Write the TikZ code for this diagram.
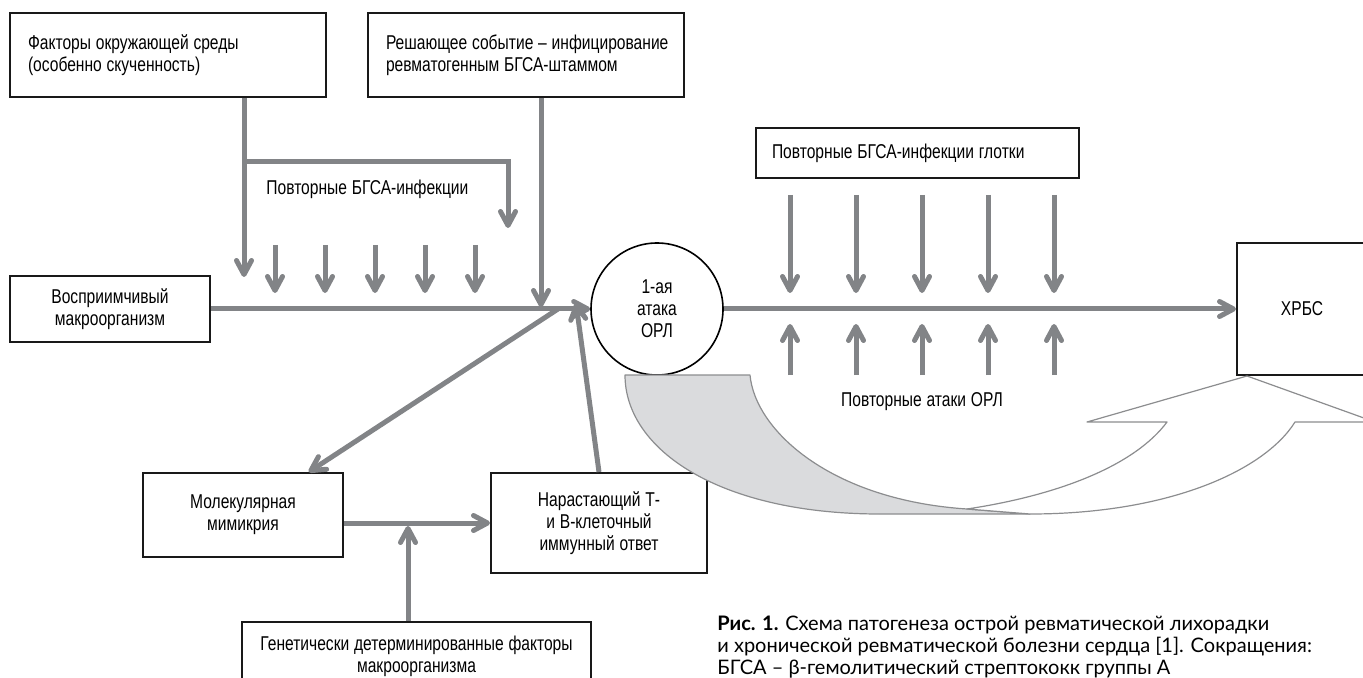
\documentclass[tikz,border=0pt]{standalone}
\usepackage{fontspec}
\setmainfont[FakeStretch=0.78]{Liberation Sans}
\newfontfamily\capfont{Lato}
\usetikzlibrary{arrows.meta,calc}

\definecolor{linegray}{RGB}{130,132,135}
\definecolor{bandgray}{RGB}{218,219,221}
\definecolor{bandline}{RGB}{140,141,143}

\tikzset{
	box/.style={draw=black!90, line width=1pt, inner sep=0pt, font=\fontsize{10}{10.9}\selectfont,
		execute at begin node={\spaceskip=.24em plus .05em\relax}},
	leftbox/.style={box, align=left, inner xsep=9pt},
	midbox/.style={box, align=center},
	label/.style={inner sep=0pt, font=\fontsize{10}{10.9}\selectfont,
		execute at begin node={\spaceskip=.24em plus .05em\relax}},
	flow/.style={draw=linegray, line width=2.5pt, -{Straight Barb[length=7pt,width=7.5pt,round]}},
	band/.style={draw=bandline, line width=0.6pt, line join=round}
}

\begin{document}
\begin{tikzpicture}[x=0.5pt, y=-0.5pt]

		\useasboundingbox (0,0) rectangle (1363,678);

		\pgfmathsetmacro{\infstep}{50}
		\pgfmathsetmacro{\attstep}{66}

		% draw boxes
		\node[leftbox, text width=140pt, minimum width=158pt, minimum height=42pt] (env) at (168,55) {Факторы окружающей среды\\(особенно скученность)};
		\node[leftbox, text width=140pt, minimum width=158pt, minimum height=42pt] (event) at (526,55) {\mbox{Решающее событие – инфицирование}\\ревматогенным БГСА-штаммом};
		\node[leftbox, inner xsep=8pt, text width=145.5pt, minimum width=161.5pt, minimum height=25pt] (pharynx) at (917.5,153) {Повторные БГСА-инфекции глотки};
		\node[midbox, minimum width=100pt, minimum height=33pt] (host) at (110,309) {Восприимчивый\\макроорганизм};
		\node[circle, draw=black, line width=0.8pt, minimum size=66pt, inner sep=0pt, align=center, font=\fontsize{10}{11}\selectfont] (attack) at (657,309) {1-ая\\атака\\ОРЛ};
		\node[midbox, minimum width=65pt, minimum height=66pt] (chd) at (1302,309) {ХРБС};
		\node[midbox, minimum width=100pt, minimum height=42pt] (mimic) at (243,515) {Молекулярная\\мимикрия};
		\node[midbox, minimum width=108pt, minimum height=50pt] (immune) at (599,523) {Нарастающий Т-\\и В-клеточный\\иммунный ответ};
		\node[midbox, minimum width=174.5pt, minimum height=34pt] (genes) at (416.5,656) {Генетически детерминированные факторы\\макроорганизма};

		\node[label, anchor=west] (reinf) at (266,189) {Повторные БГСА-инфекции};
		\node[label] (reatt) at (922,402) {Повторные атаки ОРЛ};

		\coordinate (hub) at (558,309);
		\coordinate (envtip) at (244,277);
		\coordinate (branch) at (244,162);
		\coordinate (branchtip) at (508,228);
		\coordinate (eventtip) at (541,307);
		\coordinate (immunetip) at (576,303);
		\coordinate (genetip) at (408,526);

		% draw first run
		\draw[flow] (env.south -| envtip) -- (envtip);
		\draw[flow] (branch) -| (branchtip);
		\draw[flow] (event.south -| eventtip) -- (eventtip);
		\foreach \i in {0, ..., 4}
		{
			\draw[flow] (275 + \infstep * \i, 245) -- ++(0, 48); % arrow down
		}
		\draw[flow] (host.east) -- (attack.west);

		% draw immune loop
		\draw[flow] (hub) -- (mimic);
		\draw[flow] (mimic.east |- immune.west) -- (immune.west);
		\draw[flow] (genes.north -| genetip) -- (genetip);
		\draw[flow] (immune.north) -- (immunetip);

		% draw repeated attacks
		\draw[flow] (attack.east) -- (chd.west);
		\foreach \i in {0, ..., 4}
		{
			\draw[flow] (790 + \attstep * \i, 195) -- (790 + \attstep * \i, 293); % arrow down
			\draw[flow] (790 + \attstep * \i, 375) -- (790 + \attstep * \i, 324); % arrow up
		}

		% draw turning band
		\draw[band, fill=bandgray] (625,375) -- (750,375)
			.. controls (755,430) and (830,500) .. (967,509)
			-- (1030,514) -- (880,514)
			.. controls (720,514) and (625,450) .. (625,375) -- cycle;
		\draw[band, fill=white] (967,509)
			.. controls (1060,495) and (1135,465) .. (1167,422)
			-- (1087,422) -- (1247,376) -- (1375,422) -- (1295,422)
			.. controls (1265,470) and (1170,514) .. (1030,514) -- cycle;

		% caption
		\node[anchor=north west, inner sep=0pt, align=left, font=\capfont\fontsize{10}{11}\selectfont] (caption) at (717,616) {\textbf{Рис. 1.} Схема патогенеза острой ревматической лихорадки\\и хронической ревматической болезни сердца [1]. Сокращения:\\БГСА – β-гемолитический стрептококк группы А};

	\end{tikzpicture}
\end{document}
